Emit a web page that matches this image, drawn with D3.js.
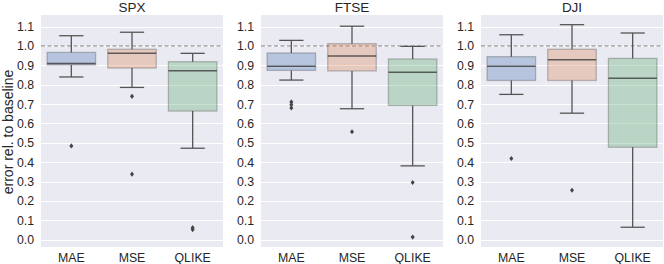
<!DOCTYPE html>
<html>
<head>
<meta charset="utf-8">
<script src="https://cdn.jsdelivr.net/npm/d3@7"></script>
<style>
  body { margin: 0; background: #fff; }
  svg { display: block; font-family: "Liberation Sans", Arial, sans-serif; }
  .tick-label { font-size: 12.3px; fill: #262626; }
  .title { font-size: 13.5px; fill: #262626; }
  .ylabel { font-size: 14px; fill: #262626; }
</style>
</head>
<body>
<div id="chart"></div>
<script>
// categorias e estatísticas
const indices = ['SPX', 'FTSE', 'DJI'];
const losses = ['MAE', 'MSE', 'QLIKE'];
const yTicks = [0.0, 0.1, 0.2, 0.3, 0.4, 0.5, 0.6, 0.7, 0.8, 0.9, 1.0, 1.1];

// [MAE, MSE, QLIKE] por índice
const whiskerHi = [[1.053, 1.071, 0.962], [1.029, 1.102, 0.998], [1.058, 1.110, 1.067]];
const q3 = [[0.967, 0.983, 0.919], [0.964, 1.012, 0.933], [0.945, 0.983, 0.936]];
const median = [[0.910, 0.962, 0.872], [0.896, 0.948, 0.864], [0.895, 0.929, 0.834]];
const q1 = [[0.902, 0.886, 0.664], [0.874, 0.871, 0.693], [0.822, 0.822, 0.477]];
const whiskerLo = [[0.840, 0.786, 0.472], [0.824, 0.676, 0.381], [0.750, 0.653, 0.064]];
const outliers = [
  [[0.484], [0.740, 0.338], [0.062, 0.052]],
  [[0.711, 0.697, 0.680], [0.557], [0.295, 0.013]],
  [[0.419], [0.255], []]
];
const baseline = 1.0;

const colors = ['rgba(76,114,176,0.32)', 'rgba(221,132,82,0.32)', 'rgba(85,168,104,0.32)'];

const W = 664, H = 264;
const panelLeft = [41, 261, 481];
const panelW = 182;
const plotTop = 15, plotBottom = 247;

const svg = d3.select('#chart').append('svg').attr('width', W).attr('height', H);

const y = d3.scaleLinear().domain([-0.038, 1.16]).range([plotBottom, plotTop]);

svg.append('text')
  .attr('transform', `translate(12.5,132) rotate(-90)`)
  .attr('text-anchor', 'middle')
  .attr('class', 'ylabel')
  .text('error rel. to baseline');

indices.forEach((name, p) => {
  const x0 = panelLeft[p];
  const x = d3.scaleBand().domain(losses).range([x0, x0 + panelW]);
  const g = svg.append('g');

  g.append('rect').attr('x', x0).attr('y', plotTop).attr('width', panelW).attr('height', plotBottom - plotTop).attr('fill', '#EAEAF2');

  // grade
  g.selectAll('line.grid').data(yTicks).enter().append('line')
    .attr('x1', x0).attr('x2', x0 + panelW)
    .attr('y1', d => Math.round(y(d)) + 0.5).attr('y2', d => Math.round(y(d)) + 0.5)
    .attr('stroke', '#fff').attr('stroke-width', 1);

  // eixo y
  const yAxis = g.append('g').attr('transform', `translate(${x0},0)`)
    .call(d3.axisLeft(y).tickValues(yTicks).tickFormat(d3.format('.1f')).tickSize(0).tickPadding(7));
  yAxis.select('.domain').remove();
  yAxis.selectAll('text').attr('class', 'tick-label').attr('font-size', null).attr('font-family', null);

  // eixo x
  const xAxis = g.append('g').attr('transform', `translate(0,${plotBottom})`)
    .call(d3.axisBottom(x).tickSize(0).tickPadding(6));
  xAxis.select('.domain').remove();
  xAxis.selectAll('text').attr('class', 'tick-label').attr('font-size', null).attr('font-family', null);

  g.append('text').attr('x', x0 + panelW / 2).attr('y', 11.5).attr('text-anchor', 'middle')
    .attr('class', 'title').text(name);

  // linha de referência
  g.append('line').attr('x1', x0).attr('x2', x0 + panelW)
    .attr('y1', y(baseline)).attr('y2', y(baseline))
    .attr('stroke', '#808080').attr('stroke-width', 1.2).attr('stroke-dasharray', '4,2.5');

  const bw = x.bandwidth() * 0.8;
  losses.forEach((loss, i) => {
    const cx = x(loss) + x.bandwidth() / 2;
    const line = (x1, y1, x2, y2, w) => g.append('line')
      .attr('x1', x1).attr('y1', y1).attr('x2', x2).attr('y2', y2)
      .attr('stroke', '#555').attr('stroke-width', w || 1.3);

    line(cx, y(q3[p][i]), cx, y(whiskerHi[p][i]));
    line(cx, y(q1[p][i]), cx, y(whiskerLo[p][i]));
    line(cx - bw / 4, y(whiskerHi[p][i]), cx + bw / 4, y(whiskerHi[p][i]));
    line(cx - bw / 4, y(whiskerLo[p][i]), cx + bw / 4, y(whiskerLo[p][i]));

    g.append('rect')
      .attr('x', cx - bw / 2).attr('y', y(q3[p][i]))
      .attr('width', bw).attr('height', y(q1[p][i]) - y(q3[p][i]))
      .attr('fill', colors[i]).attr('stroke', 'rgba(60,60,60,0.3)').attr('stroke-width', 1.3);

    line(cx - bw / 2, y(median[p][i]), cx + bw / 2, y(median[p][i]), 1.5).attr('stroke', 'rgba(60,60,60,0.8)');

    g.selectAll(null).data(outliers[p][i]).enter().append('path')
      .attr('transform', d => `translate(${cx},${y(d)})`)
      .attr('d', 'M0,-2.6L2,0L0,2.6L-2,0Z')
      .attr('fill', '#444');
  });
});
</script>
</body>
</html>
